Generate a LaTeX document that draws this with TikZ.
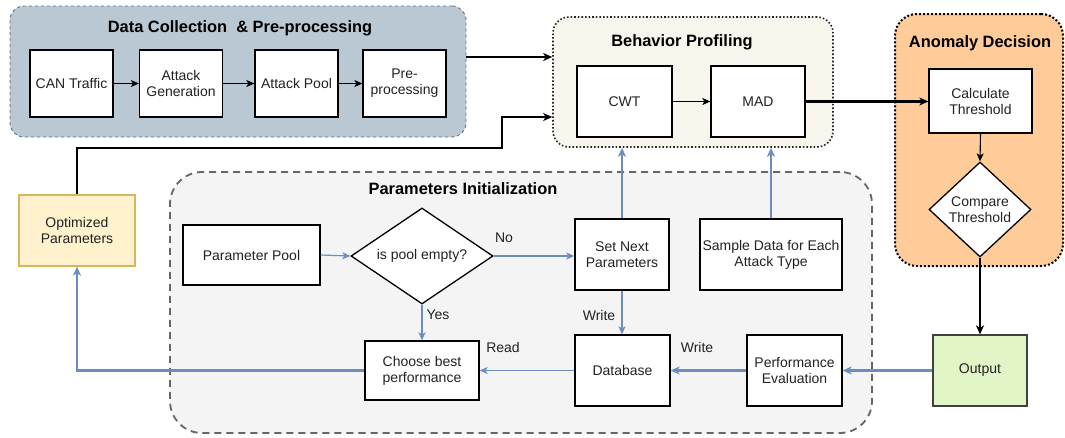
\documentclass[tikz,border=0pt]{standalone}
\usepackage{fontspec}
\setmainfont{Liberation Sans}
\usetikzlibrary{shapes.geometric,arrows.meta,calc}
\definecolor{dcfill}{HTML}{BAC8D3}
\definecolor{dcdraw}{HTML}{5C6E80}
\definecolor{bpfill}{HTML}{F8F5EC}
\definecolor{adfill}{HTML}{FFCC99}
\definecolor{pifill}{HTML}{F4F4F4}
\definecolor{pidraw}{HTML}{666666}
\definecolor{optfill}{HTML}{FFF2CC}
\definecolor{optdraw}{HTML}{D6B656}
\definecolor{outfill}{HTML}{E1F5C6}
\definecolor{blueln}{HTML}{6C8EBF}
\definecolor{txt}{HTML}{222222}
\tikzset{
  every node/.style={font=\fontsize{14}{16}\selectfont, text=txt},
  box/.style={draw=black, line width=1.3pt, fill=white, align=center, inner sep=1pt},
  ttl/.style={font=\fontsize{16.4}{18}\selectfont\bfseries, text=black},
  cont/.style={inner sep=0pt},
  lbl/.style={inner sep=1pt},
  tipb/.style={-{Stealth[length=9pt,width=8pt,inset=2.5pt]}},
  tips/.style={-{Stealth[length=8pt,width=7pt,inset=2pt]}},
  blk/.style={draw=black, line width=1.1pt, tips},
  blkt/.style={draw=black, line width=2.4pt, tipb},
  blu/.style={draw=blueln, line width=1.2pt, tips},
  blut/.style={draw=blueln, line width=2.4pt, tipb},
}
\begin{document}
\begin{tikzpicture}[x=1pt,y=-1pt]
\useasboundingbox (0,0) rectangle (1065,437);
% containers
\node[cont, draw=dcdraw, dashed, line width=0.9pt, fill=dcfill, rounded corners=14pt,
  minimum width=456pt, minimum height=131pt] (dc) at (238,71.5) {};
\node[cont, draw=black!85, dotted, line width=1.6pt, fill=bpfill, rounded corners=16pt,
  minimum width=280pt, minimum height=130pt] (bp) at (693,82) {};
\node[cont, draw=black, dotted, line width=2pt, fill=adfill, rounded corners=22pt,
  minimum width=168pt, minimum height=252pt] (ad) at (979,140) {};
\node[cont, draw=pidraw, dash pattern=on 7pt off 5pt, line width=1.8pt, fill=pifill, rounded corners=32pt,
  minimum width=702pt, minimum height=261pt] (pi) at (521,302.5) {};
% titles
\node[ttl] (tdc) at (240,28) {Data Collection\ \ \& Pre-processing};
\node[ttl] (tbp) at (682,42) {Behavior Profiling};
\node[ttl] (tad) at (980,43) {Anomaly Decision};
\node[ttl] (tpi) at (463,189) {Parameters Initialization};
% data collection boxes
\node[box, minimum width=83pt, minimum height=67pt] (can) at (71.5,83.5) {CAN Traffic};
\node[box, minimum width=83pt, minimum height=67pt] (ag) at (181,83.5) {Attack\\Generation};
\node[box, minimum width=83pt, minimum height=67pt] (ap) at (296.5,83.5) {Attack Pool};
\node[box, minimum width=83pt, minimum height=67pt] (pre) at (404.5,83.5) {Pre-\\processing};
% behavior profiling
\node[box, minimum width=95pt, minimum height=71pt] (cwt) at (624.5,101.5) {CWT};
\node[box, minimum width=94pt, minimum height=71pt] (mad) at (758,101.5) {MAD};
% anomaly decision
\node[box, minimum width=103pt, minimum height=64pt] (calc) at (980.5,101) {Calculate\\Threshold};
\node[box, diamond, inner sep=0pt, minimum width=102pt, minimum height=95pt] (cmp) at (980,209.5) {Compare\\Threshold};
\node[box, fill=outfill, draw=black!75, minimum width=94pt, minimum height=71pt] (out) at (980,370.5) {Output};
% parameters init
\node[box, minimum width=137pt, minimum height=60pt] (ppool) at (251.5,255) {Parameter Pool};
\node[box, diamond, shape aspect=1.5, inner sep=0pt, minimum width=142pt, minimum height=96pt] (empty) at (422,256) {is pool empty?};
\node[box, minimum width=94pt, minimum height=71pt] (setn) at (622,254.5) {Set Next\\Parameters};
\node[box, minimum width=142pt, minimum height=71pt, inner sep=0pt] (samp) at (771,254.5) {Sample Data for Each\\Attack Type};
\node[box, minimum width=114pt, minimum height=59pt] (choose) at (422,370.5) {Choose best\\performance};
\node[box, minimum width=95pt, minimum height=71pt] (db) at (622.5,370.5) {Database};
\node[box, minimum width=95pt, minimum height=71pt, inner sep=0pt] (perf) at (794.5,370.5) {Performance\\Evaluation};
\node[box, fill=optfill, draw=optdraw, minimum width=116pt, minimum height=71pt] (opt) at (77,230.5) {Optimized\\Parameters};
% labels
\node[lbl] (lno) at (504,238) {No};
\node[lbl] (lyes) at (438,315) {Yes};
\node[lbl] (lread) at (503,347) {Read};
\node[lbl] (lw1) at (599,315) {Write};
\node[lbl] (lw2) at (697,347) {Write};
% connectors: data collection
\draw[blk] (can) -- (ag);
\draw[blk] (ag) -- (ap);
\draw[blk] (ap) -- (pre);
\draw[blkt] (dc.east |- 0,57) -- (bp.west |- 0,57);
\draw[blkt] (opt.north) -- (77,148) -- (502,148) -- (502,117) -- (bp.west |- 0,117);
% behavior profiling
\draw[blk] (cwt) -- (mad);
\draw[blkt] (mad.east) -- (calc.west |- mad.east);
% anomaly decision
\draw[blk] (calc.south) -- (cmp.north);
\draw[blkt] (cmp.south) -- (out.north);
% parameters
\draw[blu] (ppool.east) -- (empty.west);
\draw[blu] (empty.east) -- (setn.west |- empty.east);
\draw[blu] (empty.south) -- (choose.north);
\draw[blu] (setn.south) -- (db.north -| setn.south);
\draw[blu] (db.west) -- (choose.east |- db.west);
\draw[blut] (out.west) -- (perf.east);
\draw[blut] (perf.west) -- (db.east);
\draw[blut] (choose.west) -- (77,370.5) -- (opt.south);
\draw[blut] (setn.north) -- (bp.south -| setn.north);
\draw[blut] (samp.north) -- (bp.south -| samp.north);
\end{tikzpicture}
\end{document}
